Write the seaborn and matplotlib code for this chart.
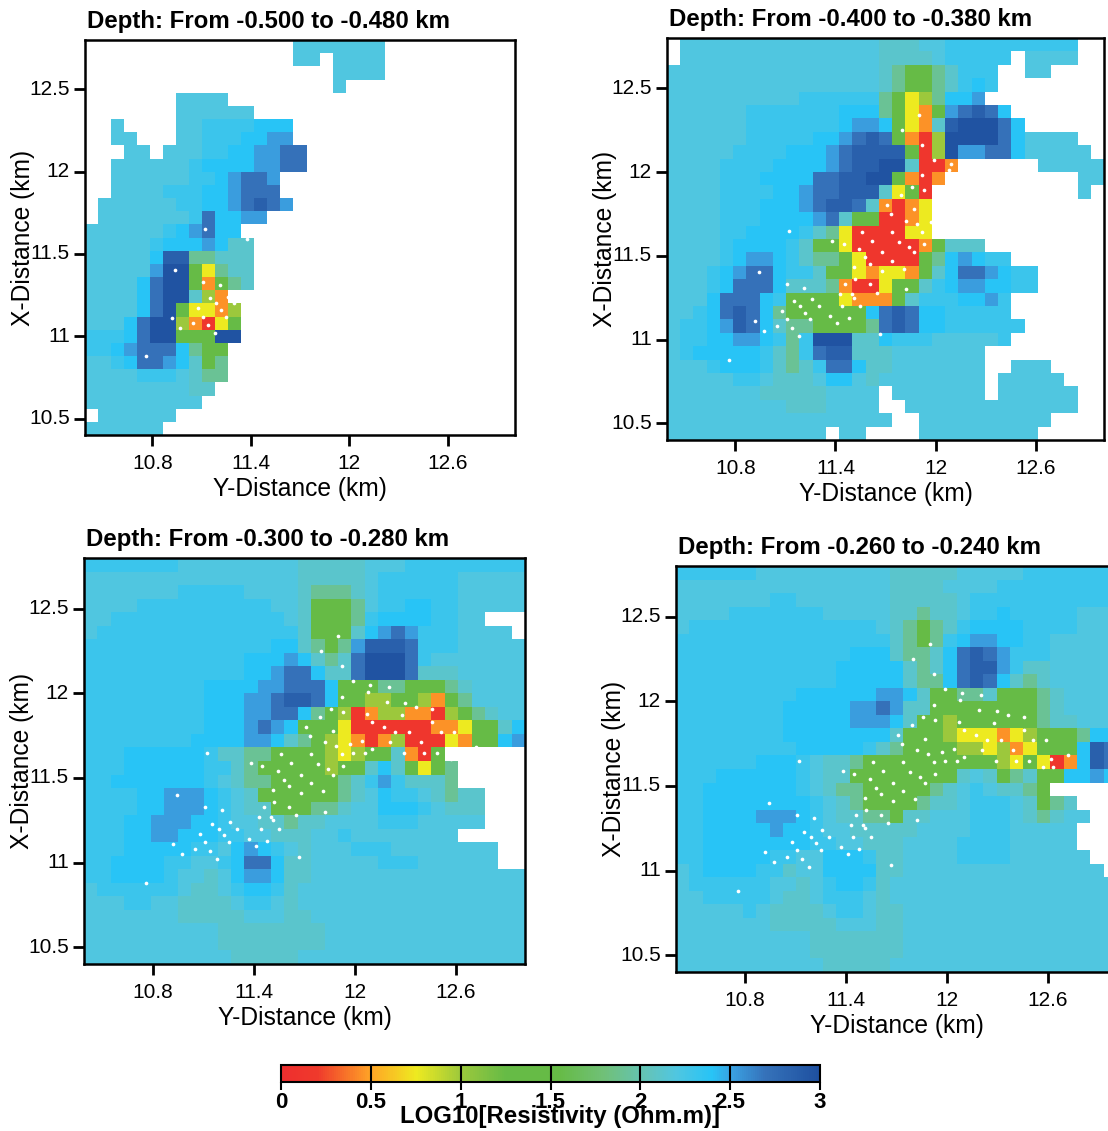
# resistivity depth slices

import numpy as np
import matplotlib
matplotlib.use("Agg")
import matplotlib.pyplot as plt
from matplotlib.colors import LinearSegmentedColormap
import seaborn as sns

# log10 resistivity for each letter used in the panel rows, "." = no data
LEVEL_CODES = {"r": 0.15, "o": 0.45, "y": 0.75, "l": 1.0, "g": 1.4, "m": 1.9, "t": 2.12,
               "c": 2.2, "b": 2.3, "s": 2.4, "u": 2.52, "d": 2.7, "e": 2.85, "n": 2.97}

TITLES = ["Depth: From -0.500 to -0.480 km", "Depth: From -0.400 to -0.380 km",
          "Depth: From -0.300 to -0.280 km", "Depth: From -0.260 to -0.240 km"]

Y_DIST_RANGE = [10.39, 13.01]
X_DIST_RANGE = [10.40, 12.80]
Y_DIST_TICKS = [10.8, 11.4, 12, 12.6]
Y_DIST_LABELS = ["10.8", "11.4", "12", "12.6"]
X_DIST_TICKS = [10.5, 11, 11.5, 12, 12.5]
X_DIST_LABELS = ["10.5", "11", "11.5", "12", "12.5"]
CBAR_TICKS = [0, 0.5, 1, 1.5, 2, 2.5, 3]
CBAR_LABELS = ["0", "0.5", "1", "1.5", "2", "2.5", "3"]

# rows run from the top of each panel, 33 cells per row, short rows end in no data
PANEL_A = [
    "..... ..... ..... .cccc ccc",
    "..... ..... ..... .cc.c ccc",
    "..... ..... ..... ....c ccc",
    "..... ..... ..... ....c",
    "..... ..ccc c",
    "..... ..ccc ccc",
    "..c.. ..ccb bbbss s",
    "..cc. ..ccb bbssu u",
    "...cc .cccb bssuu dd",
    "..ccc cccbs sssuu dd",
    "..ccc cccbb suddu",
    "..ccc cbbbs suddd",
    ".cccc ccbbs suded u",
    ".cccc cccbd ssuu",
    "ccccc cbsud ss",
    "ccccc bsssu stt",
    "ccccc seemm ttt",
    "ccccc unngy mtt",
    "ccccs dnngo gmt",
    "ccccs dnntl o",
    "ccccs dngyy ol",
    "cccsd nnlor yg",
    "bbbsd nnggg nn",
    "bbsud ddsmg g",
    "ccbsd dustg m",
    "ccccb bbctm m",
    "ccccc ccctt",
    "ccccc cccc",
    ".cccc cc",
    "ccccc c",
]

PANEL_B = [
    ".cccc ccccc ccccc ctttc cbbbb bbbbb b",
    ".cccc ccccc ccccc ctttt cbbbb b.ccc c",
    "ccccc ccccc ccccc ctmgg mtbbb ..cc",
    "ccccc ccccc ccccc ctmgg mtbsb",
    "ccccc ccccc bbbbb bmgyl mssu",
    "ccccc cbbbb bbbss smgyo guded s",
    "ccccc cbbbb bbbsu usgyo tennn ds",
    "ccccc cbbbb bssud edgor lnnnn dsccc c",
    "ccccc bbbbs ssude eeegr lnuud dsccc cc",
    "ccccb bbbss ssude enntr ro... ...cc ccc",
    "ccccb bbsss sddee nngor o.... ..... .cc",
    "ccccb bbbss uddee etygr ..... ..... .c",
    "ccccb bbsss udeed toroy",
    "ccccb bbsss sudtg grroy",
    "ccccb bssss btmyr rrryy",
    "ccccb ssssb tggyr rrrro gttt",
    "ccccb suusb tmmgy rrrrg msusb b",
    "cccbs uddsb btggy oyyog tsddu sbb",
    "cccbs dddst ttmor ryggt bsuus sbb",
    "cccsd ddsbg gggyo oogtb bbssu b",
    "ccbsd edsmg ggggg sdeds sbbbb b",
    "cbbsu edstm mgggg mdeds sbbbb bb",
    "cbbss uusbm bnnnt tsbbb ccccc b",
    "cbsss ssbtm bdeet ttccc cccc",
    "cccbs ssbtm tbdds ttccc cccc. .ccc",
    "ccccc bbctt tcssc tcccc cccc. ccccc",
    "ccccc ccttt ttccc c.ccc cccc. ccccc c",
    "ccccc cccct ttccc c..cc ccccc ccccc c",
    "ccccc ccccc ccccc cc..c ccccc cccc",
    "ccccc ccccc cc.cc ....c ccccc ccc",
]

PANEL_C = [
    "bbbbb bbccc ccccc ctttt tcccb bbbbb bbb",
    "ccccc ccccc ccccc ctttt tcbbb bbbcc ccc",
    "ccccc ccbbb bbccc ctmmm tcbbb bbbcc ccc",
    "ccccb bbbbb bbbbc ctggg mcbbs sbbcc ccc",
    "ccbbb bbbbb bbbbb ctggg mbsss sbbcc",
    "cbbbb bbbbb bbbbb btggg tsudu bbbcc cc",
    "bbbbb bbbbb bbbbs stmgm ueeed bbbcc ccc",
    "bbbbb bbbbb bbsss ustmt dnnnd bcccc ccc",
    "bbbbb bbbbb bbssu ddstt dnnnd tttcc ccc",
    "bbbbb bbbbs sssuu dddsg ggmmg ggmtc ccc",
    "bbbbb bbbbs ssuud eedsg gllgg logmc ccc",
    "bbbbb bbbbs ssuud dsmgl rollo orlgm tcc",
    "bbbbb bbbbs ssudu sgggy rrrrr rooyg gts",
    "bbbbb bbbss ssuus tmgly orolr rryog gsu",
    "bbbss ssssb ttmmg gggly lggto rg",
    "bbbss ssssb btmgg ggglg gtstg ygm",
    "bbsss ssssb ctmmg ggggm tbubt ttm",
    "bbbbs suuus bctgg ggggm tcsbb ctmtt",
    "bbbbs suuus bcttg ggmmt ccsss bcttt",
    "bbbss uuuss bcctt mttcc ccbbb ccccc",
    "bbbss uusss bbcct ttccb ccccc ccc",
    "bbbss sssbb csusb ctccc bbbcc ccccc c",
    "bbsss sbbcc bsdds ttccc ccbbb ccccc c",
    "bbsss sbcct csuus ttccc ccccc ccccc ccc",
    "cbbbb bbctt cbssb tcccc ccccc ccccc ccc",
    "cccbb ccttt tcbbc tcccc ccccc ccccc ccc",
    "ccccc ccttt ttccc ttccc ccccc ccccc ccc",
    "ccccc ccccc ttttt tttcc ccccc ccccc ccc",
    "ccccc ccccc ttttt tttcc ccccc ccccc ccc",
    "ccccc ccccc ctttt tcccc ccccc ccccc ccc",
]

PANEL_D = [
    "bbbbb bcccc ccccc ctttt tcccc cbbbb bbb",
    "ccccc ccccc ccccc ctttt ccccb bbbbb bbb",
    "ccccc ccbbc ccccc ctttt tcbbb bbbbb bbb",
    "ccccb bbbbb bcccc cttmt tcbbs bbbbb ccc",
    "cbbbb bbbbb bbbbb ctmgm tbsss sbbbb ccc",
    "bbbbb bbbbb bbbbb btmgm bsuus sbbcc ccc",
    "bbbbb bbbbb bbbss stmmt sdedu bbbcc ccc",
    "bbbbb bbbbb bbsss sstmt sdeeu bttcc ccc",
    "bbbbb bbbbb bbsss sstmm sdeds tmtcc ccc",
    "bbbbb bbbbs sssss uustg gmmtg ggmtc ccc",
    "bbbbb bbbss sssuu duttg ggggg ggmtc ccc",
    "bbbbb bbbss sssuu ustgg lgggg ggmtt ccc",
    "bbbbb bbbss sssss stggg lyyyo ylggg mss",
    "bbbbb bbbbs ssssb tmggg gllyl oyggg sed",
    "bbbbb bsssb cttmg ggggg ggggl ygyro sed",
    "bbbss ssssb cttgg ggggg gtctg mtggs sus",
    "bbsss ssssb ctmmg ggggm tcbct tmg",
    "bbsss sssss bctmg gggmt tcbbb ctgmt",
    "bbsss suuus bcttm mgttc ccbbb ctmtc c",
    "bbsss ssuss bcctt tttcc ccbbb ccccc",
    "bbsss sssss bbcct ttccc cbbbb ccccc",
    "bbsss ssbbc csssb ttccc cbbbb ccccc c",
    "cbsss sbbtc cssss ttccc ccccc ccccc cc",
    "cbbbb bbcct cbssb tcccc ccccc ccccc ccc",
    "ccbbb bbctt cbbbc tcccc ccccc ccccc ccc",
    "ccccc bcttt tcbbc ttccc ccccc ccccc ccc",
    "ccccc ccttt ttccc ttccc ccccc ccccc ccc",
    "ccccc ccccc ttttt ttccc ccccc ccccc ccc",
    "ccccc ccccc ttttt ttccc ccccc ccccc ccc",
    "ccccc ccccc ctttt tcccc ccccc ccccc ccc",
]

# stations, km
STATION_Y_DIST = [10.76, 10.94, 10.92, 10.97, 11.05, 11.08, 11.11, 11.11, 11.12, 11.14, 11.15, 11.18,
                  11.19, 11.21, 11.22, 11.25, 11.26, 11.30, 11.37, 11.41, 11.38, 11.45, 11.44, 11.43,
                  11.46, 11.48, 11.50, 11.51, 11.55, 11.52, 11.51, 11.54, 11.56, 11.58, 11.61, 11.61,
                  11.62, 11.65, 11.67, 11.68, 11.68, 11.74, 11.74, 11.78, 11.81, 11.82, 11.82, 11.84,
                  11.87, 11.89, 11.92, 11.93, 11.97, 11.99, 12.06, 12.10, 12.04, 12.21, 12.29, 12.41,
                  12.49, 12.39, 12.32, 12.24, 12.51, 12.59, 12.17, 12.10, 12.07, 12.28, 12.46, 12.46,
                  12.36, 12.30, 12.19, 11.93, 11.87, 11.86, 11.79, 11.73, 11.71, 11.92, 11.99, 12.08,
                  12.09, 12.20, 11.92, 11.80, 11.90, 12.62, 12.63, 12.57, 12.72]
STATION_X_DIST = [10.88, 11.40, 11.11, 11.05, 11.08, 11.17, 11.12, 11.33, 11.65, 11.07, 11.23, 11.02,
                  11.20, 11.31, 11.16, 11.12, 11.24, 11.20, 11.14, 11.10, 11.59, 11.57, 11.20, 11.27,
                  11.33, 11.13, 11.27, 11.25, 11.20, 11.36, 11.43, 11.54, 11.64, 11.49, 11.45, 11.33,
                  11.59, 11.28, 11.03, 11.41, 11.52, 11.47, 11.64, 11.58, 11.42, 11.30, 11.71, 11.55,
                  11.52, 11.69, 11.64, 11.57, 11.70, 11.65, 11.65, 11.67, 11.72, 11.71, 11.65, 11.65,
                  11.65, 11.71, 11.77, 11.77, 11.77, 11.77, 11.80, 11.83, 11.88, 11.87, 11.83, 11.91,
                  11.92, 11.94, 11.95, 11.89, 11.78, 11.91, 11.86, 11.75, 11.80, 11.98, 12.07, 12.01,
                  12.05, 12.04, 12.16, 12.25, 12.34, 11.66, 11.61, 11.61, 11.68]

cmap_res = LinearSegmentedColormap.from_list("res", [
    (0 / 3, "#ee2e2e"), (0.2 / 3, "#ef3a2c"), (0.5 / 3, "#ffa526"), (0.75 / 3, "#eeea20"),
    (1.0 / 3, "#9cc83c"), (1.25 / 3, "#66bb46"), (1.55 / 3, "#66bb46"), (1.8 / 3, "#70c078"),
    (2.05 / 3, "#62c4bc"), (2.2 / 3, "#50c6e0"), (2.4 / 3, "#28c4f6"), (2.52 / 3, "#3a9fe0"),
    (2.7 / 3, "#3572ba"), (3 / 3, "#1e50a0")])

sns.set_theme(style="white")
plt.rcParams["font.family"] = ["Liberation Sans", "DejaVu Sans"]

W, H = 1108, 1131


def px_axes(fig, left, top, right, bottom):
    return fig.add_axes([left / W, 1 - bottom / H, (right - left) / W, (bottom - top) / H])


def decode(rows):
    cells = []
    for row in rows:
        row = row.replace(" ", "").ljust(33, ".")
        cells.append([LEVEL_CODES.get(ch, np.nan) for ch in row[:33]])
    return np.array(cells)


fig = plt.figure(figsize=(W / 100, H / 100), dpi=100)
boxes = [(85, 40, 515, 435), (667, 38, 1104, 440), (84, 558, 525, 964), (676, 566, 1117, 972)]
panels = [PANEL_A, PANEL_B, PANEL_C, PANEL_D]
cax = px_axes(fig, 281, 1065, 820, 1082)

sx = np.array(STATION_Y_DIST)
sy = np.array(STATION_X_DIST)

for i, rows in enumerate(panels):
    ax = px_axes(fig, *boxes[i])
    grid = decode(rows)
    nrow, ncol = grid.shape
    to_col = lambda v: (np.asarray(v, dtype=float) - Y_DIST_RANGE[0]) / (Y_DIST_RANGE[1] - Y_DIST_RANGE[0]) * ncol
    to_row = lambda v: (X_DIST_RANGE[1] - np.asarray(v, dtype=float)) / (X_DIST_RANGE[1] - X_DIST_RANGE[0]) * nrow
    sns.heatmap(grid, ax=ax, cmap=cmap_res, vmin=0, vmax=3, square=False,
                cbar=(i == 3), cbar_ax=cax if i == 3 else None,
                cbar_kws={"orientation": "horizontal"} if i == 3 else None,
                rasterized=True)
    # white dots also fall on the no-data area, same as the original
    sns.scatterplot(x=to_col(sx), y=to_row(sy), ax=ax, color="white", s=7, linewidth=0, zorder=3, clip_on=True)
    ax.set_xlim(0, ncol)
    ax.set_ylim(nrow, 0)
    ax.set_xticks(to_col(Y_DIST_TICKS))
    ax.set_xticklabels(Y_DIST_LABELS, rotation=0, fontsize=15)
    ax.set_yticks(to_row(X_DIST_TICKS))
    ax.set_yticklabels(X_DIST_LABELS, rotation=0, fontsize=15)
    ax.tick_params(axis="y", which="major", length=8, width=2, color="black", labelcolor="black", pad=3, left=True)
    ax.tick_params(axis="x", which="major", length=8, width=2, color="black", labelcolor="black", pad=5.5, bottom=True)
    ax.set_xlabel("Y-Distance (km)", fontsize=17.7, color="black", labelpad=3)
    ax.set_ylabel("X-Distance (km)", fontsize=17.7, color="black")
    ax.yaxis.set_label_coords(-50 / (boxes[i][2] - boxes[i][0]), 0.5)
    for sp in ax.spines.values():
        sp.set_visible(True)
        sp.set_color("black")
        sp.set_linewidth(1.8)
    ax.set_title(TITLES[i], fontsize=17.3, fontweight="bold", color="black", loc="left", pad=8.5, x=0.004)

cbar = ax.collections[0].colorbar
cbar.set_ticks(CBAR_TICKS)
cbar.set_ticklabels(CBAR_LABELS, fontsize=16, fontweight="bold", color="black")
cax.tick_params(axis="x", length=6, width=1.5, color="black", pad=1, bottom=True)
cax.vlines(CBAR_TICKS[1:-1], 0, 1, transform=cax.get_xaxis_transform(), colors="black", linewidth=1.5)
cbar.outline.set_edgecolor("black")
cbar.outline.set_linewidth(1.5)
fig.text(560 / W, 1 - 1116 / H, "LOG10[Resistivity (Ohm.m)]", fontsize=17.3, fontweight="bold",
         color="black", ha="center", va="center")

fig.savefig("out.png", dpi=100)
